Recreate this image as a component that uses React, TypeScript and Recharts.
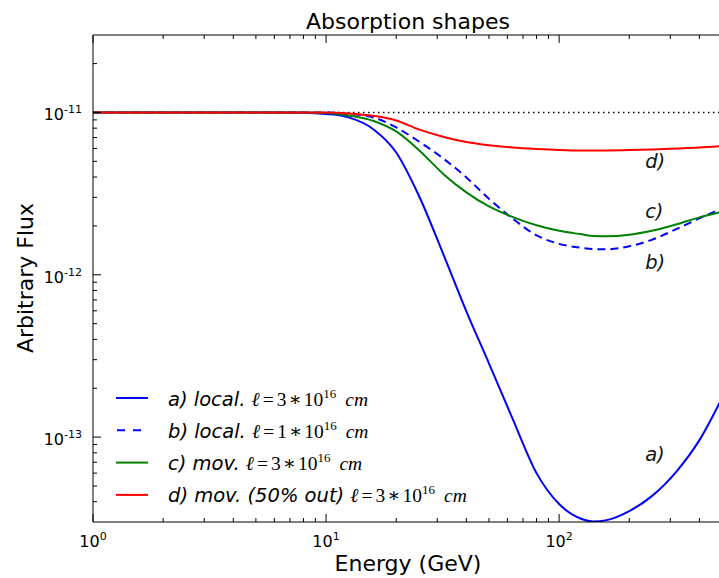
import React from 'react';
import { LineChart, Line, XAxis, YAxis, Legend, ReferenceDot } from 'recharts';

// ---------- data ----------
const energies = [1, 2, 4, 6, 8, 10, 12.5, 16, 20, 25, 32, 40, 50, 63, 80, 100, 125, 140, 160, 200, 250, 320, 400, 500];

const intrinsic = energies.map(() => 1e-11);

const localA = [1e-11, 1e-11, 1e-11, 1e-11, 9.97e-12, 9.79e-12, 9.32e-12, 7.86e-12, 5.67e-12, 3.08e-12, 1.318e-12, 5.96e-13, 2.85e-13, 1.31e-13, 6.0e-14, 3.87e-14, 3.13e-14, 3.02e-14, 3.08e-14, 3.5e-14, 4.33e-14, 6.18e-14, 9.58e-14, 1.74e-13];

const localB = [1e-11, 1e-11, 1e-11, 1e-11, 1e-11, 1e-11, 9.79e-12, 9.32e-12, 8.085e-12, 6.63e-12, 5.175e-12, 3.981e-12, 2.936e-12, 2.227e-12, 1.75e-12, 1.551e-12, 1.466e-12, 1.439e-12, 1.435e-12, 1.498e-12, 1.642e-12, 1.918e-12, 2.227e-12, 2.565e-12];

const movC = [1e-11, 1e-11, 1e-11, 1e-11, 1e-11, 9.93e-12, 9.584e-12, 8.865e-12, 7.64e-12, 5.877e-12, 4.154e-12, 3.219e-12, 2.638e-12, 2.275e-12, 2.017e-12, 1.865e-12, 1.775e-12, 1.733e-12, 1.725e-12, 1.763e-12, 1.865e-12, 2.046e-12, 2.258e-12, 2.441e-12];

const movD = [1e-11, 1e-11, 1e-11, 1e-11, 1e-11, 1e-11, 9.86e-12, 9.516e-12, 8.93e-12, 7.86e-12, 7.067e-12, 6.58e-12, 6.284e-12, 6.09e-12, 5.963e-12, 5.877e-12, 5.835e-12, 5.835e-12, 5.835e-12, 5.861e-12, 5.919e-12, 6.004e-12, 6.09e-12, 6.221e-12];

const seriesKeys = ['a', 'b', 'c', 'd'];
const seriesColors = ['#0000ff', '#0000ff', '#008000', '#ff0000'];
const seriesDash = [undefined, '8 5', undefined, undefined];
const legendPrefix = ['a) local. ', 'b) local. ', 'c) mov. ', 'd) mov. (50% out) '];
const legendCoef = ['3', '1', '3', '3'];

const curveLabels = ['a)', 'b)', 'c)', 'd)'];
const curveLabelE = [234, 234, 234, 234];
const curveLabelF = [7.11e-14, 1.08e-12, 2.23e-12, 4.52e-12];

const xTicks = [1, 2, 3, 4, 5, 6, 7, 8, 9, 10, 20, 30, 40, 50, 60, 70, 80, 90, 100, 200, 300, 400];
const yTicks = [4e-14, 5e-14, 6e-14, 7e-14, 8e-14, 9e-14, 1e-13, 2e-13, 3e-13, 4e-13, 5e-13, 6e-13, 7e-13, 8e-13, 9e-13, 1e-12, 2e-12, 3e-12, 4e-12, 5e-12, 6e-12, 7e-12, 8e-12, 9e-12, 1e-11, 2e-11];

const data = energies.map((e, i) => ({
  e,
  base: intrinsic[i],
  a: localA[i],
  b: localB[i],
  c: movC[i],
  d: movD[i],
}));

// ---------- helpers ----------
const isMajor = (v: number) => {
  const l = Math.log10(v);
  return Math.abs(l - Math.round(l)) < 1e-6;
};
const FONT = "'DejaVu Sans', sans-serif";
const SERIF = "'Liberation Serif', 'DejaVu Serif', serif";

const BottomTick = (props: any) => {
  const { x, y, payload } = props;
  const v = payload.value;
  const major = isMajor(v);
  return (
    <g>
      <line x1={x} x2={x} y1={y} y2={y - (major ? 8 : 4)} stroke="#000" strokeWidth={1} />
      {major && (
        <text x={x} y={y + 25} textAnchor="middle" fontSize={16} fill="#000" fontFamily={FONT}>
          10<tspan dy={-7} fontSize={11}>{String(Math.round(Math.log10(v)))}</tspan>
        </text>
      )}
    </g>
  );
};

const TopTick = (props: any) => {
  const { x, y, payload } = props;
  const major = isMajor(payload.value);
  return <line x1={x} x2={x} y1={y} y2={y + (major ? 8 : 4)} stroke="#000" strokeWidth={1} />;
};

const LeftTick = (props: any) => {
  const { x, y, payload } = props;
  const v = payload.value;
  const major = isMajor(v);
  return (
    <g>
      <line x1={x} x2={x + (major ? 8 : 4)} y1={y} y2={y} stroke="#000" strokeWidth={1} />
      {major && (
        <text x={x - 11} y={y + 8} textAnchor="end" fontSize={16} fill="#000" fontFamily={FONT}>
          10<tspan dy={-7} fontSize={11}>{String(Math.round(Math.log10(v)))}</tspan>
        </text>
      )}
    </g>
  );
};

const LegendContent = () => (
  <svg width={719} height={578} style={{ position: 'absolute', left: 0, top: 0, pointerEvents: 'none' }}>
    {seriesKeys.map((k, i) => {
      const cy = 398 + i * 32.3;
      const dashed = !!seriesDash[i];
      return (
        <g key={k}>
          <line x1={dashed ? 117 : 116} x2={dashed ? 142 : 148} y1={cy} y2={cy} stroke={seriesColors[i]} strokeWidth={2} strokeDasharray={dashed ? '8 8' : undefined} />
          <text x={168} y={cy + 7.5} fontSize={19.5} fill="#000">
            <tspan fontFamily={FONT} fontStyle="italic">{legendPrefix[i]}</tspan>
            <tspan fontFamily={SERIF} fontStyle="italic">ℓ</tspan>
            <tspan fontFamily={SERIF} dx={3}>=</tspan>
            <tspan fontFamily={SERIF} dx={3}>{legendCoef[i]}</tspan>
            <tspan fontFamily={SERIF} dx={2}>∗</tspan>
            <tspan fontFamily={SERIF} dx={2}>10</tspan>
            <tspan fontFamily={SERIF} dy={-8} fontSize={13}>16</tspan>
            <tspan fontFamily={SERIF} fontStyle="italic" dy={8} dx={9}>cm</tspan>
          </text>
        </g>
      );
    })}
  </svg>
);

export default function App() {
  return (
    <div style={{ position: 'absolute', left: 0, top: 0, width: 719, height: 578, overflow: 'hidden', background: '#fff' }}>
      <LineChart width={740} height={578} data={data} margin={{ top: 0, right: 18, bottom: 0, left: 0 }}>
        <XAxis
          dataKey="e"
          type="number"
          scale="log"
          domain={[1, 500]}
          allowDataOverflow
          ticks={xTicks}
          interval={0}
          tickSize={0}
          tickMargin={0}
          tickLine={false}
          tick={<BottomTick />}
          height={56}
          axisLine={{ stroke: '#000', strokeWidth: 1 }}
        />
        <XAxis
          xAxisId="top"
          orientation="top"
          dataKey="e"
          type="number"
          scale="log"
          domain={[1, 500]}
          allowDataOverflow
          ticks={xTicks}
          interval={0}
          tickSize={0}
          tickMargin={0}
          tickLine={false}
          tick={<TopTick />}
          height={35}
          axisLine={{ stroke: '#000', strokeWidth: 1 }}
        />
        <YAxis
          type="number"
          scale="log"
          domain={[3e-14, 3e-11]}
          allowDataOverflow
          ticks={yTicks}
          interval={0}
          tickSize={0}
          tickMargin={0}
          tickLine={false}
          tick={<LeftTick />}
          width={93}
          axisLine={{ stroke: '#000', strokeWidth: 1 }}
        />
        <Line dataKey="base" stroke="#000" strokeWidth={1.5} strokeDasharray="1.5 3.5" dot={false} type="linear" isAnimationActive={false} legendType="none" />
        {seriesKeys.map((k, i) => (
          <Line
            key={k}
            dataKey={k}
            stroke={seriesColors[i]}
            strokeWidth={2}
            strokeDasharray={seriesDash[i]}
            dot={false}
            type="monotone"
            isAnimationActive={false}
          />
        ))}
        {curveLabels.map((t, i) => (
          <ReferenceDot
            key={t}
            x={curveLabelE[i]}
            y={curveLabelF[i]}
            r={0}
            ifOverflow="visible"
            shape={(p: any) => (
              <text x={p.cx} y={p.cy} fontSize={19.5} fontStyle="italic" fontFamily={FONT} fill="#111">
                {t}
              </text>
            )}
          />
        ))}
        <Legend layout="vertical" align="center" verticalAlign="middle" content={<LegendContent />} wrapperStyle={{ left: 0, top: 0, width: 719, height: 578, pointerEvents: 'none' }} />
      </LineChart>
      <svg width={719} height={578} style={{ position: 'absolute', left: 0, top: 0, pointerEvents: 'none' }}>
        <text x={408} y={29} textAnchor="middle" fontSize={22} fontFamily={FONT} fill="#000">Absorption shapes</text>
        <text x={408} y={571} textAnchor="middle" fontSize={22} fontFamily={FONT} fill="#000">Energy (GeV)</text>
        <text x={33} y={278} textAnchor="middle" fontSize={22} fontFamily={FONT} fill="#000" transform="rotate(-90 33 278)">Arbitrary Flux</text>
      </svg>
    </div>
  );
}
